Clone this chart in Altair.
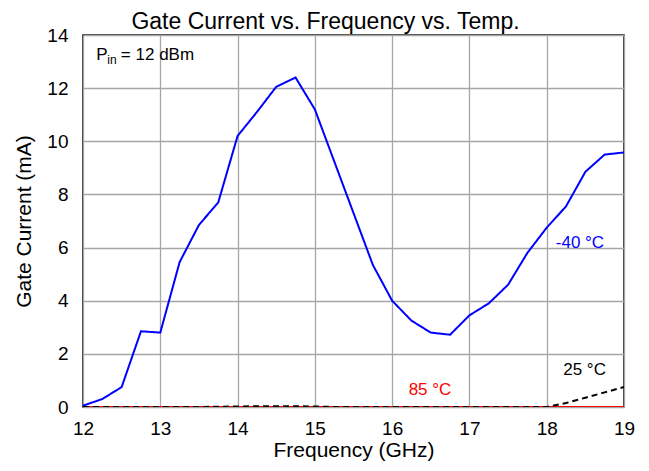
import altair as alt
import pandas as pd

freq = [12.0, 12.25, 12.5, 12.75, 13.0, 13.25, 13.5, 13.75, 14.0, 14.25, 14.5, 14.75,
        15.0, 15.25, 15.5, 15.75, 16.0, 16.25, 16.5, 16.75, 17.0, 17.25, 17.5, 17.75,
        18.0, 18.25, 18.5, 18.75, 19.0]
i_m40 = [0.05, 0.3, 0.75, 2.85, 2.8, 5.45, 6.85, 7.7, 10.2, 11.1, 12.05, 12.4,
         11.2, 9.25, 7.3, 5.35, 4.0, 3.25, 2.8, 2.72, 3.45, 3.9, 4.6, 5.8,
         6.75, 7.55, 8.85, 9.5, 9.58]
i_25 = [0.0, 0.0, 0.0, 0.0, 0.0, 0.0, 0.0, 0.01, 0.02, 0.03, 0.03, 0.03,
        0.02, 0.0, 0.0, 0.0, 0.0, 0.0, 0.0, 0.0, 0.0, 0.0, 0.0, 0.0,
        0.0, 0.15, 0.35, 0.55, 0.75]
i_85 = [0.0] * 29

series = ["85 °C", "-40 °C", "25 °C"]
colors = ["#ff0000", "#0000ff", "#000000"]
dashes = [[1, 0], [1, 0], [6, 4]]

rows = []
for s, vals in zip(series, [i_85, i_m40, i_25]):
    for f, v in zip(freq, vals):
        rows.append({"freq": f, "current": v, "series": s})
df = pd.DataFrame(rows)

label_text = ["-40 °C", "25 °C", "85 °C"]
label_x = [18.43, 18.49, 16.49]
label_y = [6.17, 1.39, 0.64]
label_color = ["#0000ff", "#000000", "#ff0000"]
labels = pd.DataFrame({"x": label_x, "y": label_y, "t": label_text, "c": label_color})

ann_text = ["P", "in", "= 12 dBm"]
ann_x = [12.17, 12.315, 12.49]
ann_y = [13.06, 12.92, 13.06]
ann_size = [17, 12, 17]
ann = pd.DataFrame({"x": ann_x, "y": ann_y, "t": ann_text, "s": ann_size})

FONT = "Liberation Sans"

xs = alt.Scale(domain=[12, 19], nice=False, zero=False)
ys = alt.Scale(domain=[0, 14], nice=False)

lines = alt.Chart(df).mark_line(strokeWidth=2, clip=True).encode(
    x=alt.X("freq:Q", scale=xs, title="Frequency (GHz)",
            axis=alt.Axis(values=list(range(12, 20)), format="d")),
    y=alt.Y("current:Q", scale=ys, title="Gate Current (mA)",
            axis=alt.Axis(values=list(range(0, 15, 2)))),
    color=alt.Color("series:N", scale=alt.Scale(domain=series, range=colors), legend=None),
    strokeDash=alt.StrokeDash("series:N", scale=alt.Scale(domain=series, range=dashes), legend=None),
    order=alt.Order("freq:Q"),
)

lbl = alt.Chart(labels).mark_text(fontSize=17, font=FONT, align="center", baseline="middle").encode(
    x=alt.X("x:Q", scale=xs), y=alt.Y("y:Q", scale=ys),
    text="t:N", color=alt.Color("c:N", scale=None),
)

an = alt.Chart(ann).mark_text(font=FONT, align="left", baseline="alphabetic", color="black").encode(
    x=alt.X("x:Q", scale=xs), y=alt.Y("y:Q", scale=ys),
    text="t:N", size=alt.Size("s:Q", scale=None, legend=None),
)

chart = alt.layer(lines, lbl, an).properties(
    width=541, height=372,
    title=alt.Title("Gate Current vs. Frequency vs. Temp.", fontSize=23, font=FONT,
                    fontWeight="normal", color="black", offset=-8, dx=-28),
    autosize=alt.AutoSizeParams(type="none"),
    padding={"left": 75, "top": 27, "right": 17, "bottom": 62},
).configure_view(
    stroke="black", strokeWidth=1.5
).configure_axis(
    labelFont=FONT, titleFont=FONT, labelFontSize=19, titleFontSize=21,
    labelColor="black", titleColor="black", titleFontWeight="normal",
    grid=True, gridColor="#a6a6a6", gridWidth=1.3, ticks=False, domain=False,
    labelFlush=False,
).configure_axisX(
    labelPadding=12, titlePadding=1,
).configure_axisY(
    labelPadding=15, titlePadding=12,
)

chart.save("out.html", embed_options={"renderer": "svg", "actions": False})
